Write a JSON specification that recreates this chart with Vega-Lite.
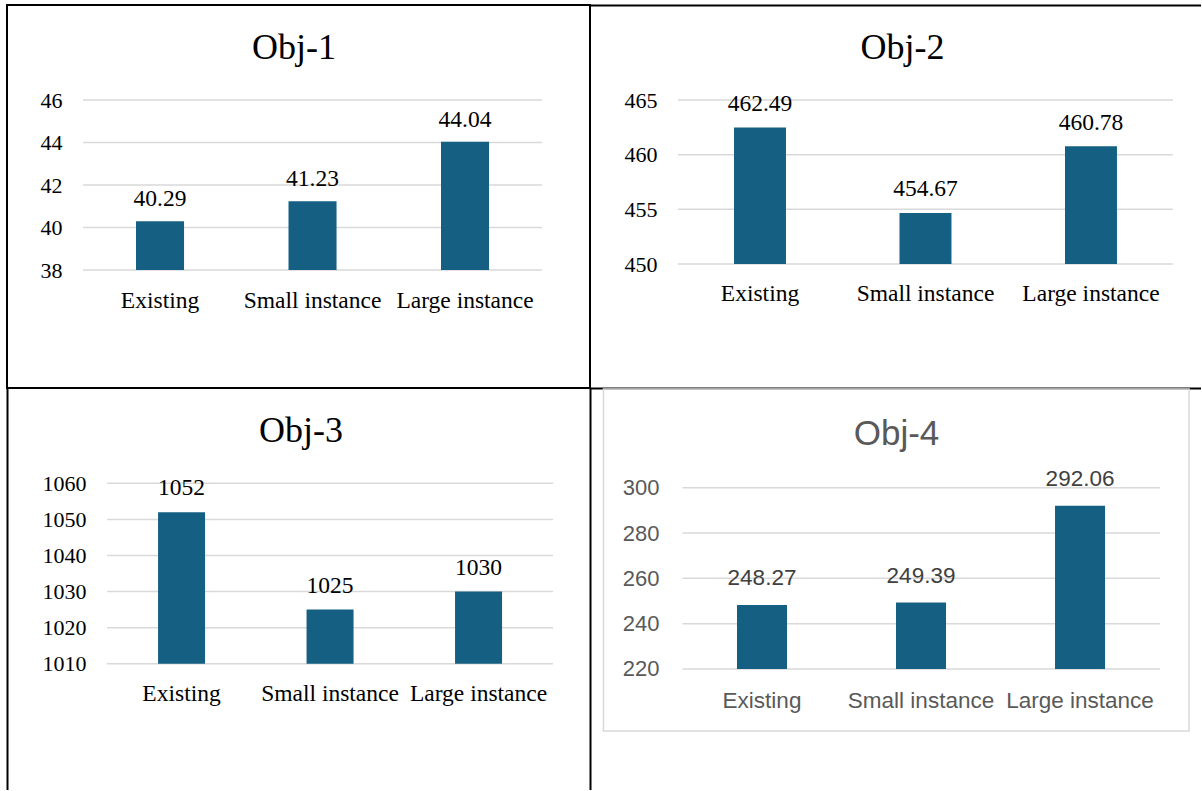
{
  "$schema": "https://vega.github.io/schema/vega-lite/v6.json",
  "background": "white",
  "padding": {"left": 6, "top": 4, "right": 0, "bottom": 0},
  "bounds": "flush",
  "spacing": 0,
  "columns": 2,
  "datasets": {
    "obj1": [{"category": "Existing", "value": 40.29}, {"category": "Small instance", "value": 41.23}, {"category": "Large instance", "value": 44.04}],
    "obj2": [{"category": "Existing", "value": 462.49}, {"category": "Small instance", "value": 454.67}, {"category": "Large instance", "value": 460.78}],
    "obj3": [{"category": "Existing", "value": 1052}, {"category": "Small instance", "value": 1025}, {"category": "Large instance", "value": 1030}],
    "obj4": [{"category": "Existing", "value": 248.27}, {"category": "Small instance", "value": 249.39}, {"category": "Large instance", "value": 292.06}],
    "grid1": [{"tick": 38}, {"tick": 40}, {"tick": 42}, {"tick": 44}, {"tick": 46}],
    "grid2": [{"tick": 450}, {"tick": 455}, {"tick": 460}, {"tick": 465}],
    "grid3": [{"tick": 1010}, {"tick": 1020}, {"tick": 1030}, {"tick": 1040}, {"tick": 1050}, {"tick": 1060}],
    "grid4": [{"tick": 220}, {"tick": 240}, {"tick": 260}, {"tick": 280}, {"tick": 300}],
    "frame": [{"item": "chart area"}]
  },
  "concat": [
    {
      "width": 583,
      "height": 383,
      "view": {"stroke": "black", "strokeWidth": 2},
      "title": {"text": "Obj-1", "offset": -90, "baseline": "alphabetic", "font": "serif", "fontSize": 36, "fontWeight": "normal", "color": "black", "anchor": "middle", "frame": "group", "dx": -4.5},
      "resolve": {"axis": {"x": "independent", "y": "independent"}},
      "layer": [
        {
          "data": {"name": "grid1"},
          "mark": {"type": "rule", "color": "#d9d9d9", "strokeWidth": 1.5},
          "encoding": {
            "x": {"datum": "Existing", "type": "nominal", "bandPosition": -1.104, "axis": null,
                  "scale": {"type": "band", "domain": ["Existing", "Small instance", "Large instance"], "paddingInner": 0.685, "paddingOuter": 0.754, "align": 0.561}},
            "x2": {"datum": "Large instance", "bandPosition": 2.104},
            "y": {"field": "tick", "type": "quantitative", "axis": null, "scale": {"domain": [32.447, 50.471], "zero": false, "nice": false}}
          }
        },
        {
          "data": {"name": "obj1"},
          "mark": {"type": "bar", "color": "#156082"},
          "encoding": {
            "x": {"field": "category", "type": "nominal", "sort": null,
                  "scale": {"type": "band", "domain": ["Existing", "Small instance", "Large instance"], "paddingInner": 0.685, "paddingOuter": 0.754, "align": 0.561},
                  "axis": {"orient": "bottom", "offset": -81, "title": null, "domain": false, "ticks": false, "grid": false, "labelAngle": 0, "labelPadding": 0, "labelBaseline": "alphabetic", "labelFont": "serif", "labelFontSize": 23.5, "labelColor": "black", "labelLimit": 300}},
            "y": {"field": "value", "type": "quantitative",
                  "scale": {"domain": [32.447, 50.471], "zero": false, "nice": false},
                  "axis": {"orient": "left", "offset": -55, "values": [38, 40, 42, 44, 46], "format": "d", "title": null, "domain": false, "ticks": false, "grid": false, "labelPadding": 0, "labelFont": "serif", "labelFontSize": 22, "labelColor": "black"}},
            "y2": {"datum": 38}
          }
        },
        {
          "data": {"name": "obj1"},
          "mark": {"type": "text", "baseline": "alphabetic", "dy": -15, "font": "serif", "fontSize": 23.5, "color": "black"},
          "encoding": {
            "x": {"field": "category", "type": "nominal", "axis": null},
            "y": {"field": "value", "type": "quantitative", "axis": null},
            "text": {"field": "value", "type": "quantitative", "format": ".2f"}
          }
        }
      ]
    },
    {
      "width": 611,
      "height": 383,
      "title": {"text": "Obj-2", "offset": -90, "baseline": "alphabetic", "font": "serif", "fontSize": 36, "fontWeight": "normal", "color": "black", "anchor": "middle", "frame": "group", "dx": 7},
      "resolve": {"axis": {"x": "independent", "y": "independent"}},
      "layer": [
        {
          "data": {"name": "grid2"},
          "mark": {"type": "rule", "color": "#d9d9d9", "strokeWidth": 1.5},
          "encoding": {
            "x": {"datum": "Existing", "type": "nominal", "bandPosition": -1.077,
                  "scale": {"type": "band", "domain": ["Existing", "Small instance", "Large instance"], "paddingInner": 0.686, "paddingOuter": 0.689, "align": 0.6315},
                  "axis": {"orient": "top", "offset": 0, "title": null, "labels": false, "ticks": false, "grid": false, "domain": true, "domainColor": "black", "domainWidth": 2}},
            "x2": {"datum": "Large instance", "bandPosition": 2.077},
            "y": {"field": "tick", "type": "quantitative", "axis": null, "scale": {"domain": [438.659, 473.689], "zero": false, "nice": false}}
          }
        },
        {
          "data": {"name": "obj2"},
          "mark": {"type": "bar", "color": "#156082"},
          "encoding": {
            "x": {"field": "category", "type": "nominal", "sort": null,
                  "scale": {"type": "band", "domain": ["Existing", "Small instance", "Large instance"], "paddingInner": 0.686, "paddingOuter": 0.689, "align": 0.6315},
                  "axis": {"orient": "bottom", "offset": -88, "title": null, "domain": false, "ticks": false, "grid": false, "labelAngle": 0, "labelPadding": 0, "labelBaseline": "alphabetic", "labelFont": "serif", "labelFontSize": 23.5, "labelColor": "black", "labelLimit": 300}},
            "y": {"field": "value", "type": "quantitative",
                  "scale": {"domain": [438.659, 473.689], "zero": false, "nice": false},
                  "axis": {"orient": "left", "offset": -67, "values": [450, 455, 460, 465], "format": "d", "title": null, "domain": false, "ticks": false, "grid": false, "labelPadding": 0, "labelFont": "serif", "labelFontSize": 22, "labelColor": "black"}},
            "y2": {"datum": 450}
          }
        },
        {
          "data": {"name": "obj2"},
          "mark": {"type": "text", "baseline": "alphabetic", "dy": -16.5, "font": "serif", "fontSize": 23.5, "color": "black"},
          "encoding": {
            "x": {"field": "category", "type": "nominal",
                  "axis": {"orient": "bottom", "offset": 0, "title": null, "labels": false, "ticks": false, "grid": false, "domain": true, "domainColor": "black", "domainWidth": 2}},
            "y": {"field": "value", "type": "quantitative", "axis": null},
            "text": {"field": "value", "type": "quantitative", "format": ".2f"}
          }
        }
      ]
    },
    {
      "width": 583,
      "height": 402,
      "title": {"text": "Obj-3", "offset": -90, "baseline": "alphabetic", "font": "serif", "fontSize": 36, "fontWeight": "normal", "color": "black", "anchor": "middle", "frame": "group", "dx": 2.5},
      "resolve": {"axis": {"x": "independent", "y": "independent"}},
      "layer": [
        {
          "data": {"name": "grid3"},
          "mark": {"type": "rule", "color": "#d9d9d9", "strokeWidth": 1.5},
          "encoding": {
            "x": {"datum": "Existing", "type": "nominal", "bandPosition": -1.085, "axis": null,
                  "scale": {"type": "band", "domain": ["Existing", "Small instance", "Large instance"], "paddingInner": 0.6835, "paddingOuter": 0.8047, "align": 0.632}},
            "x2": {"datum": "Large instance", "bandPosition": 2.085},
            "y": {"field": "tick", "type": "quantitative",
                  "scale": {"domain": [975.0, 1086.41], "zero": false, "nice": false},
                  "axis": {"orient": "right", "offset": 0, "title": null, "labels": false, "ticks": false, "grid": false, "domain": true, "domainColor": "black", "domainWidth": 2}}
          }
        },
        {
          "data": {"name": "obj3"},
          "mark": {"type": "bar", "color": "#156082"},
          "encoding": {
            "x": {"field": "category", "type": "nominal", "sort": null,
                  "scale": {"type": "band", "domain": ["Existing", "Small instance", "Large instance"], "paddingInner": 0.6835, "paddingOuter": 0.8047, "align": 0.632},
                  "axis": {"orient": "bottom", "offset": -90, "title": null, "domain": false, "ticks": false, "grid": false, "labelAngle": 0, "labelPadding": 0, "labelBaseline": "alphabetic", "labelFont": "serif", "labelFontSize": 23.5, "labelColor": "black", "labelLimit": 300}},
            "y": {"field": "value", "type": "quantitative",
                  "scale": {"domain": [975.0, 1086.41], "zero": false, "nice": false},
                  "axis": {"orient": "left", "offset": -79, "values": [1010, 1020, 1030, 1040, 1050, 1060], "format": "d", "title": null, "domain": false, "ticks": false, "grid": false, "labelPadding": 0, "labelFont": "serif", "labelFontSize": 22, "labelColor": "black"}},
            "y2": {"datum": 1010}
          }
        },
        {
          "data": {"name": "obj3"},
          "mark": {"type": "text", "baseline": "alphabetic", "dy": -17, "font": "serif", "fontSize": 23.5, "color": "black"},
          "encoding": {
            "x": {"field": "category", "type": "nominal", "axis": null},
            "y": {"field": "value", "type": "quantitative",
                  "axis": {"orient": "left", "offset": 0, "title": null, "labels": false, "ticks": false, "grid": false, "domain": true, "domainColor": "black", "domainWidth": 2}},
            "text": {"field": "value", "type": "quantitative", "format": "d"}
          }
        }
      ]
    },
    {
      "width": 611,
      "height": 402,
      "title": {"text": "Obj-4", "offset": -92, "baseline": "alphabetic", "font": "Liberation Sans", "fontSize": 35, "fontWeight": "normal", "color": "#595959", "anchor": "middle", "frame": "group", "dx": 1},
      "resolve": {"axis": {"x": "independent", "y": "independent"}},
      "layer": [
        {
          "data": {"name": "frame"},
          "mark": {"type": "rect", "fill": null, "stroke": "#d9d9d9", "strokeWidth": 1.5},
          "encoding": {
            "x": {"datum": "Existing", "type": "nominal", "bandPosition": -2.67, "axis": null,
                  "scale": {"type": "band", "domain": ["Existing", "Small instance", "Large instance"], "paddingInner": 0.6855, "paddingOuter": 0.764, "align": 0.605}},
            "x2": {"datum": "Large instance", "bandPosition": 2.68},
            "y": {"datum": 343.56, "type": "quantitative", "axis": null, "scale": {"domain": [166.6, 344.0], "zero": false, "nice": false}},
            "y2": {"datum": 192.63}
          }
        },
        {
          "data": {"name": "grid4"},
          "mark": {"type": "rule", "color": "#d9d9d9", "strokeWidth": 1.5},
          "encoding": {
            "x": {"datum": "Existing", "type": "nominal", "bandPosition": -1.09, "axis": null},
            "x2": {"datum": "Large instance", "bandPosition": 2.1},
            "y": {"field": "tick", "type": "quantitative", "axis": null}
          }
        },
        {
          "data": {"name": "obj4"},
          "mark": {"type": "bar", "color": "#156082"},
          "encoding": {
            "x": {"field": "category", "type": "nominal", "sort": null,
                  "axis": {"orient": "bottom", "offset": -83, "title": null, "domain": false, "ticks": false, "grid": false, "labelAngle": 0, "labelPadding": 0, "labelBaseline": "alphabetic", "labelFont": "Liberation Sans", "labelFontSize": 22.5, "labelColor": "#595959", "labelLimit": 300}},
            "y": {"field": "value", "type": "quantitative",
                  "axis": {"orient": "left", "offset": -69, "values": [220, 240, 260, 280, 300], "format": "d", "title": null, "domain": false, "ticks": false, "grid": false, "labelPadding": 0, "labelFont": "Liberation Sans", "labelFontSize": 22, "labelColor": "#595959"}},
            "y2": {"datum": 220}
          }
        },
        {
          "data": {"name": "obj4"},
          "mark": {"type": "text", "baseline": "alphabetic", "dy": -19.5, "font": "Liberation Sans", "fontSize": 22.5, "color": "#404040"},
          "encoding": {
            "x": {"field": "category", "type": "nominal", "axis": null},
            "y": {"field": "value", "type": "quantitative", "axis": null},
            "text": {"field": "value", "type": "quantitative", "format": ".2f"}
          }
        }
      ]
    }
  ],
  "config": {
    "font": "serif",
    "view": {"stroke": null},
    "axis": {"grid": false, "ticks": false, "domain": false},
    "text": {"font": "serif"},
    "title": {"font": "serif", "fontWeight": "normal"}
  }
}
